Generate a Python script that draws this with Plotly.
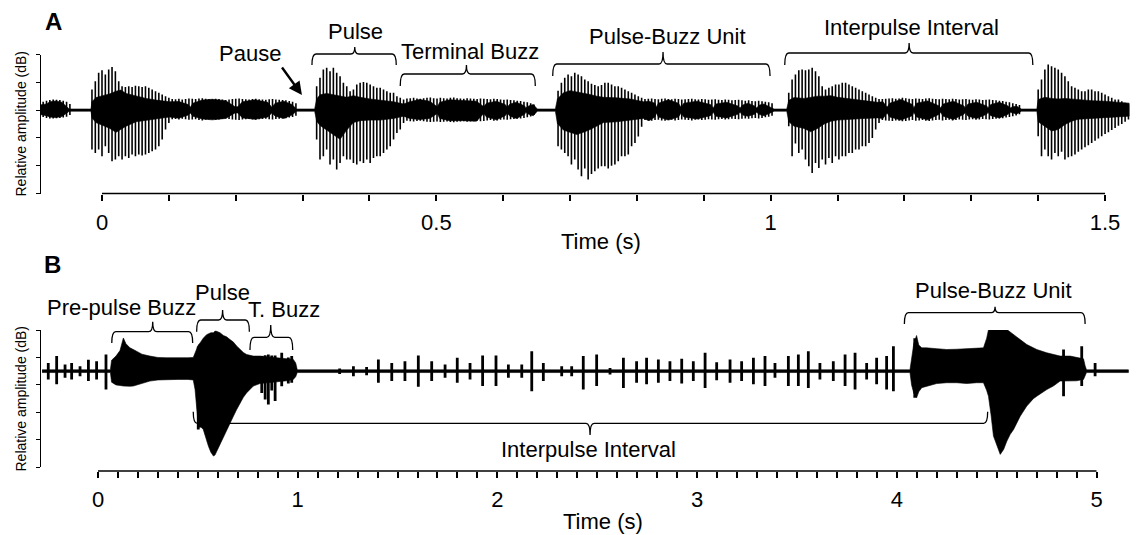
import plotly.graph_objects as go

FIG_W, FIG_H = 1136, 535
FONT = "Liberation Sans, Arial, sans-serif"

# =================== PANEL A DATA ===================
# Pulse spikes: time (ms), top / bottom relative amplitude
a_spk0_t = [-88, -83, -78, -73, -68, -63, -58, -53, -48]
a_spk0_hi = [.30, .34, .36, .38, .37, .36, .34, .30, .22]
a_spk0_lo = [-.25, -.28, -.30, -.30, -.29, -.28, -.27, -.24, -.18]

a_spk1_t = [-15, -10, -5, 0, 5, 10, 15, 20, 25, 30, 35, 40, 45, 50, 55, 60, 65, 70, 75, 80, 85, 90, 95, 100,
            105, 110, 115, 120, 125, 130, 135, 140, 145, 150, 155, 160, 165, 170, 175, 180, 185, 190, 195, 200,
            205, 210, 215, 220, 225, 230, 235, 240, 245, 250, 255, 260, 265, 270, 275, 280, 285, 290]
a_spk1_hi = [.74, 1.04, 1.34, 1.43, 1.28, 1.46, 1.55, 1.40, 1.04, .86, .83, .86, .83, .88, .86, .83, .86, .80, .74, .68, .62, .56, .50, .44,
             .40, .39, .41, .38, .40, .42, .41, .40, .42, .43, .41, .40, .39, .41, .40, .38, .36, .38, .40, .41,
             .42, .40, .39, .38, .40, .41, .39, .38, .37, .39, .40, .38, .37, .36, .35, .33, .30, .25]
a_spk1_lo = [-1.42, -1.54, -1.42, -1.66, -1.30, -1.54, -1.84, -1.78, -1.66, -1.78, -1.66, -1.72, -1.60, -1.66, -1.60, -1.63,
             -1.60, -1.54, -1.48, -1.42, -1.30, -1.06, -.70, -.46,
             -.33, -.32, -.34, -.31, -.33, -.35, -.34, -.33, -.36, -.37, -.35, -.34, -.33, -.35, -.34, -.32, -.30, -.32, -.34, -.35,
             -.36, -.34, -.33, -.32, -.34, -.35, -.33, -.32, -.31, -.33, -.34, -.32, -.31, -.30, -.29, -.27, -.25, -.20]

a_spk2_t = [321, 326, 331, 336, 341, 346, 351, 356, 361, 366, 371, 376, 381, 386, 391, 396, 401, 406, 411, 416, 421, 426,
            431, 436, 441, 446, 451, 456, 461, 466, 471, 476, 481, 486, 491, 496, 501, 506, 511, 516, 521, 526, 531, 536,
            541, 546, 551, 556, 561, 566, 571, 576, 581, 586, 591, 596, 601, 606, 611, 616, 621, 626, 631, 636, 641, 646]
a_spk2_hi = [.86, 1.16, 1.46, 1.52, 1.40, 1.52, 1.34, 1.22, .98, .86, .68, .74, .92, .98, 1.01, .98, .92, .86, .80, .80, .74,
             .68, .62, .62, .50, .44, .38,
             .42, .43, .44, .42, .41, .43, .44, .45, .43, .42, .44, .43, .42, .44, .45, .43, .42, .41, .43, .42,
             .41, .40, .42, .41, .40, .39, .41, .40, .38, .37, .38, .36, .35, .34, .33, .30, .28, .25, .20]
a_spk2_lo = [-1.06, -1.78, -1.66, -1.42, -1.96, -1.78, -2.14, -1.90, -1.66, -1.78, -1.78, -1.90, -1.96, -1.84, -1.90, -1.78,
             -1.90, -1.72, -1.66, -1.66, -1.54, -1.42, -1.30, -1.06, -.82, -.70, -.46,
             -.38, -.40, -.41, -.39, -.38, -.40, -.42, -.43, -.42, -.41, -.43, -.42, -.41, -.43, -.44, -.42, -.41, -.40, -.42, -.41,
             -.40, -.38, -.40, -.39, -.37, -.36, -.38, -.37, -.35, -.34, -.35, -.33, -.32, -.31, -.30, -.28, -.26, -.23, -.18]

a_spk3_t = [682, 687, 692, 697, 702, 707, 712, 717, 722, 727, 732, 737, 742, 747, 752, 757, 762, 767, 772, 777, 782, 787,
            792, 797, 802, 807, 812, 817, 822, 827, 832, 837, 842, 847, 852, 857, 862, 867, 872, 877, 882, 887, 892, 897,
            902, 907, 912, 917, 922, 927, 932, 937, 942, 947, 952, 957, 962, 967, 972, 977, 982, 987, 992, 997, 1002]
a_spk3_hi = [.70, .98, 1.16, 1.28, 1.22, 1.34, 1.28, 1.22, 1.10, 1.04, .95, .90, .86, .90, .98, .98, .92, .86, .86, .80,
             .74, .68, .62, .56, .50, .44,
             .40, .41, .42, .40, .39, .41, .42, .40, .39, .41, .40, .38, .39, .40, .41, .39, .38, .40, .39, .37,
             .38, .39, .37, .36, .38, .37, .35, .36, .37, .35, .34, .35, .33, .32, .34, .32, .30, .28, .25]
a_spk3_lo = [-1.30, -1.42, -1.54, -1.66, -1.96, -1.78, -2.14, -2.38, -2.10, -2.50, -2.30, -2.20, -2.10, -2.02, -2.02, -2.10,
             -2.00, -1.96, -1.84, -1.66, -1.66, -1.60, -1.30, -1.18, -.95, -.60,
             -.36, -.37, -.38, -.36, -.35, -.37, -.38, -.36, -.35, -.37, -.36, -.34, -.35, -.36, -.37, -.35, -.34, -.36, -.35, -.33,
             -.34, -.35, -.33, -.32, -.34, -.33, -.31, -.32, -.33, -.31, -.30, -.31, -.29, -.28, -.30, -.28, -.26, -.24, -.20]

a_spk4_t = [1027, 1032, 1037, 1042, 1047, 1052, 1057, 1062, 1067, 1072, 1077, 1082, 1087, 1092, 1097, 1102, 1107, 1112,
            1117, 1122, 1127, 1132, 1137, 1142, 1147, 1152, 1157, 1162, 1167, 1172, 1177, 1182, 1187, 1192, 1197, 1202,
            1207, 1212, 1217, 1222, 1227, 1232, 1237, 1242, 1247, 1252, 1257, 1262, 1267, 1272, 1277, 1282, 1287, 1292,
            1297, 1302, 1307, 1312, 1317, 1322, 1327, 1332, 1337, 1342, 1347, 1352, 1357, 1362, 1367, 1372]
a_spk4_hi = [.62, 1.10, 1.28, 1.43, 1.46, 1.43, 1.46, 1.52, 1.40, 1.22, .86, .74, .80, .86, .92, .92, .98, .98, .92, .86,
             .80, .74, .68, .62, .56, .50, .44, .40,
             .40, .41, .42, .43, .41, .42, .44, .43, .41, .40, .42, .41, .40, .42, .43, .41, .40, .39, .41, .40,
             .39, .41, .40, .38, .39, .40, .38, .37, .39, .38, .36, .37, .38, .36, .35, .34, .33, .30, .28, .25, .22, .18]
a_spk4_lo = [-.58, -1.66, -1.20, -1.54, -1.42, -1.78, -2.02, -2.26, -1.90, -2.08, -1.78, -1.96, -1.72, -1.90, -1.66, -1.78,
             -1.66, -1.66, -1.54, -1.54, -1.42, -1.42, -1.30, -1.30, -1.18, -1.00, -.70, -.46,
             -.36, -.37, -.38, -.39, -.37, -.38, -.40, -.39, -.37, -.36, -.38, -.37, -.36, -.38, -.39, -.37, -.36, -.35, -.37, -.36,
             -.35, -.37, -.36, -.34, -.35, -.36, -.34, -.33, -.35, -.34, -.32, -.33, -.34, -.32, -.31, -.30, -.29, -.27, -.25, -.22,
             -.19, -.15]

a_spk5_t = [1400, 1405, 1410, 1415, 1420, 1425, 1430, 1435, 1440, 1445, 1450, 1455, 1460, 1465, 1470, 1475, 1480, 1485,
            1490, 1495, 1500, 1505, 1510, 1515, 1520, 1525, 1530, 1535]
a_spk5_hi = [.74, 1.10, 1.46, 1.64, 1.58, 1.52, 1.46, 1.34, 1.22, 1.04, .86, .80, .74, .68, .68, .74, .74, .68, .68, .62,
             .56, .50, .44, .38, .38, .32, .26, .20]
a_spk5_lo = [-.94, -1.66, -1.42, -1.66, -1.78, -1.54, -1.66, -1.50, -1.78, -1.70, -1.66, -1.60, -1.50, -1.42, -1.34, -1.26,
             -1.18, -1.10, -1.02, -.94, -.86, -.80, -.72, -.64, -.56, -.50, -.42, -.34]

# Dense core envelope of panel A (time s, upper, lower)
a_core_t = [-0.095, -0.083, -0.078, -0.069, -0.060, -0.054, -0.049, -0.020,
            -0.0165, -0.015, -0.009, 0.001, 0.011, 0.021, 0.028, 0.036, 0.051, 0.066, 0.081, 0.101,
            0.115, 0.129, 0.132, 0.136, 0.150, 0.165, 0.185, 0.199, 0.203, 0.210,
            0.229, 0.248, 0.254, 0.259, 0.272, 0.284, 0.291, 0.316,
            0.318, 0.321, 0.326, 0.336, 0.346, 0.356, 0.366, 0.376, 0.386, 0.401,
            0.416, 0.436, 0.451, 0.460, 0.475, 0.490, 0.5015, 0.505, 0.520, 0.540,
            0.560, 0.571, 0.575, 0.590, 0.603, 0.606, 0.610, 0.620, 0.632, 0.634,
            0.638, 0.645, 0.651, 0.676,
            0.678, 0.681, 0.690, 0.700, 0.710, 0.720, 0.730, 0.740, 0.750, 0.770,
            0.790, 0.810, 0.818, 0.827, 0.829, 0.832, 0.847, 0.862, 0.866, 0.870,
            0.890, 0.910, 0.914, 0.918, 0.934, 0.951, 0.954, 0.958, 0.966, 0.976,
            0.979, 0.983, 0.990, 0.998, 1.005, 1.022,
            1.024, 1.027, 1.035, 1.050, 1.060, 1.070, 1.080, 1.090, 1.100, 1.120,
            1.140, 1.160, 1.168, 1.174, 1.178, 1.195, 1.212, 1.214, 1.218, 1.235,
            1.252, 1.254, 1.258, 1.273, 1.289, 1.291, 1.295, 1.308, 1.323, 1.325,
            1.329, 1.342, 1.355, 1.358, 1.362, 1.368, 1.375, 1.396,
            1.398, 1.400, 1.410, 1.420, 1.430, 1.440, 1.450, 1.460, 1.480, 1.500, 1.520, 1.536]
a_core_hi = [.18, .22, .30, .33, .28, .15, .04, .04,
             .04, .30, .45, .52, .58, .68, .72, .60, .50, .42, .36, .30,
             .31, .20, .10, .25, .36, .39, .34, .12, .12, .30,
             .37, .28, .10, .25, .32, .20, .04, .04,
             .04, .40, .55, .60, .56, .50, .46, .52, .46, .40,
             .36, .30, .22, .30, .38, .32, .12, .28, .37, .35,
             .32, .12, .25, .32, .20, .10, .22, .28, .15, .08,
             .15, .20, .04, .04,
             .04, .40, .62, .70, .66, .60, .56, .50, .46, .44,
             .40, .30, .32, .25, .10, .25, .37, .25, .10, .25,
             .32, .20, .08, .22, .28, .15, .08, .18, .25, .15,
             .08, .18, .22, .12, .04, .04,
             .04, .35, .45, .42, .46, .50, .50, .52, .46, .40,
             .33, .28, .30, .10, .25, .38, .20, .08, .25, .33,
             .15, .08, .22, .32, .15, .08, .22, .28, .15, .08,
             .20, .28, .15, .08, .12, .14, .04, .04,
             .04, .38, .46, .42, .40, .42, .40, .37, .34, .32, .28, .25]
a_core_lo = [-.15, -.20, -.25, -.27, -.23, -.13, -.04, -.04,
             -.04, -.28, -.45, -.55, -.65, -.80, -.70, -.58, -.42, -.36, -.32, -.25,
             -.29, -.18, -.10, -.22, -.32, -.35, -.30, -.10, -.10, -.28,
             -.33, -.25, -.10, -.22, -.30, -.18, -.04, -.04,
             -.04, -.40, -.55, -.72, -.90, -1.05, -.72, -.45, -.38, -.36,
             -.36, -.30, -.22, -.30, -.34, -.30, -.12, -.30, -.38, -.38,
             -.40, -.12, -.25, -.35, -.20, -.10, -.22, -.30, -.15, -.08,
             -.15, -.20, -.04, -.04,
             -.04, -.48, -.72, -.80, -.88, -.80, -.70, -.58, -.45, -.42,
             -.36, -.30, -.38, -.25, -.10, -.25, -.36, -.25, -.10, -.25,
             -.32, -.20, -.08, -.22, -.28, -.15, -.08, -.18, -.22, -.15,
             -.08, -.16, -.20, -.12, -.04, -.04,
             -.04, -.42, -.58, -.66, -.78, -.66, -.50, -.40, -.36, -.32,
             -.30, -.28, -.30, -.10, -.25, -.36, -.20, -.08, -.25, -.35,
             -.15, -.08, -.22, -.34, -.15, -.08, -.22, -.30, -.15, -.08,
             -.20, -.28, -.15, -.08, -.12, -.14, -.04, -.04,
             -.04, -.42, -.58, -.75, -.70, -.52, -.40, -.33, -.30, -.28, -.25, -.22]

a_tick_text = ["0", "", "", "", "", "0.5", "", "", "", "", "1", "", "", "", "", "1.5"]

# =================== PANEL B DATA ===================
b_core_t = [-0.28, 0.062, 0.068, 0.090, 0.110, 0.127, 0.140, 0.160, 0.177, 0.220, 0.260, 0.300, 0.344, 0.400, 0.450,
            0.477, 0.486, 0.495, 0.502, 0.511, 0.527, 0.544, 0.553, 0.565, 0.578, 0.586, 0.594, 0.611, 0.628, 0.644,
            0.661, 0.678, 0.694, 0.711, 0.728, 0.744, 0.761, 0.778, 0.811, 0.845, 0.878, 0.911, 0.945, 0.978, 0.990,
            0.998, 4.066, 4.074, 4.085, 4.099, 4.110, 4.125, 4.149, 4.20, 4.25, 4.30, 4.35, 4.40, 4.434, 4.450, 4.459,
            4.472, 4.484, 4.501, 4.518, 4.535, 4.551, 4.568, 4.585, 4.618, 4.651, 4.684, 4.701, 4.751, 4.784, 4.818,
            4.868, 4.900, 4.935, 4.943, 4.950, 5.16]
b_core_hi = [.05, .05, .40, .55, .75, 1.21, 1.0, .85, .79, .62, .55, .50, .49, .48, .49,
             .50, .67, .85, .95, 1.03, 1.2, 1.33, 1.36, 1.40, 1.40, 1.46, 1.45, 1.40, 1.30, 1.25,
             1.15, 1.06, .92, .79, .68, .61, .57, .55, .55, .52, .50, .48, .45, .43, .30,
             .05, .05, .5, 1.0, 1.30, .95, .85, .85, .82, .79, .80, .81, .83, .85, 1.2, 1.51,
             1.65, 1.82, 1.94, 1.76, 1.58, 1.52, 1.42, 1.33, 1.15, .97, .85, .79, .67, .61, .55,
             .55, .50, .45, .2, .05, .05]
b_core_lo = [-.05, -.05, -.40, -.50, -.52, -.54, -.55, -.55, -.54, -.45, -.36, -.32, -.30, -.30, -.30,
             -.32, -.67, -1.4, -1.88, -2.0, -2.12, -2.5, -2.73, -2.95, -3.09, -3.05, -2.9, -2.67, -2.4, -2.12,
             -1.9, -1.64, -1.4, -1.15, -.95, -.79, -.65, -.54, -.45, -.42, -.40, -.38, -.35, -.30, -.20,
             -.05, -.05, -.5, -.8, -.97, -.75, -.6, -.54, -.45, -.42, -.42, -.45, -.42, -.42, -.7, -.91,
             -1.6, -2.36, -2.73, -3.03, -2.85, -2.55, -2.3, -2.12, -1.64, -1.27, -1.0, -.91, -.67, -.54, -.36,
             -.36, -.35, -.30, -.15, -.05, -.05]

b_burst_t = [-0.249, -0.207, -0.165, -0.132, -0.090, -0.048, -0.007, 0.040,
             0.502, 0.511,
             0.820, 0.837, 0.853, 0.870, 0.887, 0.920, 0.953, 0.970,
             1.21, 1.279, 1.345,
             1.404, 1.471, 1.537, 1.604, 1.671, 1.738, 1.799, 1.863, 1.926, 1.993,
             2.055, 2.122, 2.172, 2.230, 2.322, 2.372, 2.430, 2.497, 2.564, 2.631,
             2.697, 2.747, 2.806, 2.864, 2.923, 2.981, 3.040, 3.098, 3.165, 3.223,
             3.282, 3.340,
             3.390, 3.457, 3.507, 3.557, 3.615, 3.682, 3.741, 3.791, 3.849, 3.899, 3.949, 3.983,
             4.09, 4.835, 4.926, 4.993]
b_burst_hi = [.30, .55, .24, .30, .18, .42, .36, .61,
              .90, .95,
              .55, .58, .61, .57, .57, .67, .50, .55,
              .10, .18, .15,
              .43, .30, .36, .57, .36, .24, .49, .30, .57, .57,
              .24, .24, .73, .30, .18, .18, .55, .61, .12, .49,
              .36, .49, .43, .36, .45, .36, .67, .33, .43, .36,
              .49, .55,
              .30, .55, .61, .73, .30, .36, .61, .67, .30, .49, .55, .91,
              1.2, .79, .91, .30]
b_burst_lo = [-.30, -.48, -.24, -.30, -.18, -.36, -.30, -.67,
              -2.12, -2.05,
              -.79, -1.03, -1.21, -.70, -1.09, -.55, -.45, -.42,
              -.10, -.18, -.15,
              -.42, -.36, -.36, -.57, -.36, -.24, -.42, -.30, -.54, -.54,
              -.24, -.24, -.73, -.36, -.18, -.18, -.67, -.54, -.12, -.61,
              -.42, -.48, -.42, -.36, -.45, -.36, -.61, -.33, -.42, -.36,
              -.48, -.54,
              -.24, -.54, -.54, -.61, -.30, -.36, -.54, -.67, -.30, -.48, -.67, -.73,
              -.97, -.91, -.54, -.18]

b_major_text = ["0", "1", "2", "3", "4", "5"]

# Bracket spans (time s): label, start, end, apex
a_brackets = [("Pulse", 0.314, 0.440, 0.378),
              ("Terminal Buzz", 0.446, 0.648, 0.545),
              ("Pulse-Buzz Unit", 0.674, 0.999, 0.839),
              ("Interpulse Interval", 1.021, 1.392, 1.207)]
b_brackets = [("Pre-pulse Buzz", 0.069, 0.474, 0.274),
              ("Pulse", 0.494, 0.758, 0.624),
              ("T. Buzz", 0.761, 0.975, 0.865),
              ("Pulse-Buzz Unit", 4.038, 4.943, 4.492),
              ("Interpulse Interval", 0.477, 4.455, 2.464)]

# =================== LAYOUT GEOMETRY (pixels) ===================
def PX(x):
    return x / FIG_W

def PY(y):
    return 1 - y / FIG_H

PLOT_L, PLOT_R = 41, 1132
A_T0_PX, A_PPS = 102, 668.7      # panel A: pixel of t=0, pixels per second
B_T0_PX, B_PPS = 98, 199.7       # panel B
A_YTOP, A_YBOT, A_XAXIS = 54.5, 193.5, 193.5
B_YTOP, B_YBOT, B_XAXIS = 330, 467.3, 471

A_RANGE = [(PLOT_L - A_T0_PX) / A_PPS, (PLOT_R - A_T0_PX) / A_PPS]
B_RANGE = [(PLOT_L - B_T0_PX) / B_PPS, (PLOT_R - B_T0_PX) / B_PPS]


def spike_xy(ts, his, los, scale):
    xs, ys = [], []
    for t, h, l in zip(ts, his, los):
        xs += [t / scale, t / scale, None]
        ys += [h, l, None]
    return xs, ys


def envelope(ts, his, los):
    return list(ts) + list(ts)[::-1], list(his) + list(los)[::-1]


fig = go.Figure()

# ---- panel A traces ----
ax_, ay_ = envelope(a_core_t, a_core_hi, a_core_lo)
fig.add_trace(go.Scatter(x=ax_, y=ay_, mode="lines", fill="toself", fillcolor="black",
                         line=dict(color="black", width=0.6), xaxis="x", yaxis="y", hoverinfo="skip"))
sx, sy = [], []
for ts, hs, ls in [(a_spk0_t, a_spk0_hi, a_spk0_lo), (a_spk1_t, a_spk1_hi, a_spk1_lo),
                   (a_spk2_t, a_spk2_hi, a_spk2_lo), (a_spk3_t, a_spk3_hi, a_spk3_lo),
                   (a_spk4_t, a_spk4_hi, a_spk4_lo), (a_spk5_t, a_spk5_hi, a_spk5_lo)]:
    xx, yy = spike_xy(ts, hs, ls, 1000.0)
    sx += xx
    sy += yy
fig.add_trace(go.Scatter(x=sx, y=sy, mode="lines", line=dict(color="black", width=1.6),
                         xaxis="x", yaxis="y", hoverinfo="skip"))

# ---- panel B traces ----
bx_, by_ = envelope(b_core_t, b_core_hi, b_core_lo)
fig.add_trace(go.Scatter(x=bx_, y=by_, mode="lines", fill="toself", fillcolor="black",
                         line=dict(color="black", width=0.6), xaxis="x2", yaxis="y2", hoverinfo="skip"))
bsx, bsy = spike_xy(b_burst_t, b_burst_hi, b_burst_lo, 1.0)
fig.add_trace(go.Scatter(x=bsx, y=bsy, mode="lines", line=dict(color="black", width=2.8),
                         xaxis="x2", yaxis="y2", hoverinfo="skip"))

# ---- axes ----
a_tickvals = [round(0.1 * i, 1) for i in range(16)]
b_tickvals = [round(0.1 * i, 1) for i in range(51)]
b_ticktext = [b_major_text[i // 10] if i % 10 == 0 else "" for i in range(51)]

tickfont = dict(family=FONT, size=22, color="black")
common_x = dict(showgrid=False, zeroline=False, showline=False, ticks="outside", ticklen=6,
                tickwidth=1.5, tickcolor="black", tickfont=tickfont, anchor="free",
                domain=[PX(PLOT_L), PX(PLOT_R)], ticklabelstandoff=3)
common_y = dict(showgrid=False, zeroline=False, showline=True, linecolor="black", linewidth=1.3,
                ticks="outside", ticklen=4, tickwidth=1.3, tickcolor="black", showticklabels=False)

fig.update_layout(
    width=FIG_W, height=FIG_H, template="none",
    margin=dict(l=0, r=0, t=0, b=0),
    paper_bgcolor="white", plot_bgcolor="rgba(0,0,0,0)", showlegend=False,
    font=dict(family=FONT, color="black"),
    xaxis=dict(range=A_RANGE, position=PY(A_XAXIS), tickvals=a_tickvals, ticktext=a_tick_text, **common_x),
    yaxis=dict(range=[-3, 2], domain=[PY(A_YBOT), PY(A_YTOP)], anchor="x",
               tickvals=[-3, -2, -1, 0, 1, 2], **common_y),
    xaxis2=dict(range=B_RANGE, position=PY(B_XAXIS), tickvals=b_tickvals, ticktext=b_ticktext, **common_x),
    yaxis2=dict(range=[-3.5, 1.5], domain=[PY(B_YBOT), PY(B_YTOP)], anchor="x2",
                tickvals=[-3.5, -2.5, -1.5, -0.5, 0.5, 1.5], **common_y),
)

shapes = []
# x-axis baselines (0 -> 1.5 s and 0 -> 5 s)
shapes.append(dict(type="line", xref="x", yref="paper", x0=0, x1=1.5, y0=PY(A_XAXIS), y1=PY(A_XAXIS),
                   line=dict(color="black", width=1.5)))
shapes.append(dict(type="line", xref="x2", yref="paper", x0=0, x1=5, y0=PY(B_XAXIS), y1=PY(B_XAXIS),
                   line=dict(color="black", width=1.5)))


def brace_path(t0, t1, tc, y_line, y_end, y_peak, dx):
    yl, ye, yp = PY(y_line), PY(y_end), PY(y_peak)
    return (f"M{t0},{ye} Q{t0},{yl} {t0 + dx},{yl} L{tc - dx},{yl} "
            f"Q{tc},{yl} {tc},{yp} Q{tc},{yl} {tc + dx},{yl} "
            f"L{t1 - dx},{yl} Q{t1},{yl} {t1},{ye}")


# vertical geometry of brackets (px): line, ends, apex ; label centre (px x, px y)
a_brace_geom = [(54, 65, 47, 355, 31), (74, 86, 65, 470, 51), (64, 76, 52, 667, 37), (53, 65, 43, 911, 27)]
b_brace_geom = [(331.7, 343, 321.7, 121, 307), (320, 331.7, 310, 222.5, 292), (337.3, 350, 325, 284, 309),
                (312.7, 324, 306.7, 993, 290), (423.3, 411.7, 435, 588, 449)]

annotations = []
lbl_font = dict(family=FONT, size=22, color="black")
for (name, t0, t1, tc), (yl, ye, yp, lx, ly) in zip(a_brackets, a_brace_geom):
    shapes.append(dict(type="path", xref="x", yref="paper",
                       path=brace_path(t0, t1, tc, yl, ye, yp, 4 / A_PPS),
                       line=dict(color="black", width=1.3)))
    annotations.append(dict(text=name, xref="paper", yref="paper", x=PX(lx), y=PY(ly),
                            xanchor="center", yanchor="middle", showarrow=False, font=lbl_font))
for (name, t0, t1, tc), (yl, ye, yp, lx, ly) in zip(b_brackets, b_brace_geom):
    shapes.append(dict(type="path", xref="x2", yref="paper",
                       path=brace_path(t0, t1, tc, yl, ye, yp, 4 / B_PPS),
                       line=dict(color="black", width=1.3)))
    annotations.append(dict(text=name, xref="paper", yref="paper", x=PX(lx), y=PY(ly),
                            xanchor="center", yanchor="middle", showarrow=False, font=lbl_font))

# Pause label and arrow
annotations.append(dict(text="Pause", xref="paper", yref="paper", x=PX(250), y=PY(54),
                        xanchor="center", yanchor="middle", showarrow=False, font=lbl_font))
annotations.append(dict(text="", xref="x", yref="paper", x=0.299, y=PY(95), ax=-21, ay=-29,
                        showarrow=True, arrowhead=2, arrowsize=1.1, arrowwidth=2.4, arrowcolor="black"))

# panel letters
for letter, (lx, ly) in [("A", (53, 21)), ("B", (52, 265))]:
    annotations.append(dict(text=f"<b>{letter}</b>", xref="paper", yref="paper", x=PX(lx), y=PY(ly),
                            xanchor="center", yanchor="middle", showarrow=False,
                            font=dict(family=FONT, size=24, color="black")))

# axis titles
for (tx, ty) in [(601, 241), (603, 521)]:
    annotations.append(dict(text="Time (s)", xref="paper", yref="paper", x=PX(tx), y=PY(ty),
                            xanchor="center", yanchor="middle", showarrow=False, font=lbl_font))
for ty in [123.5, 398.5]:
    annotations.append(dict(text="Relative amplitude (dB)", xref="paper", yref="paper", x=PX(20), y=PY(ty),
                            xanchor="center", yanchor="middle", textangle=-90, showarrow=False,
                            font=dict(family=FONT, size=14, color="black")))

fig.update_layout(shapes=shapes, annotations=annotations)
fig.write_html("out.html", config={"displayModeBar": False},
               post_script="document.body.style.margin='0px';")
